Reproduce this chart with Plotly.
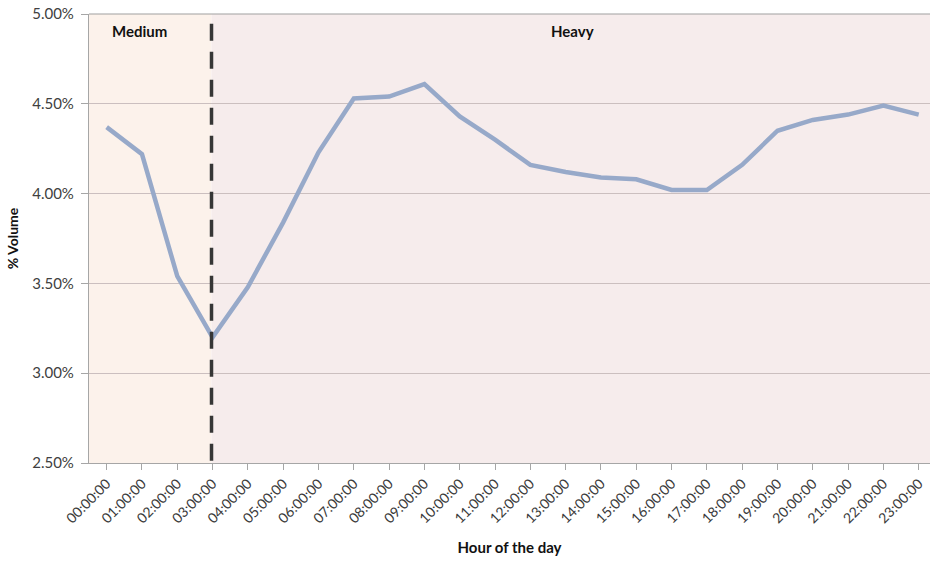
import plotly.graph_objects as go

hours = ["00:00:00", "01:00:00", "02:00:00", "03:00:00", "04:00:00", "05:00:00",
         "06:00:00", "07:00:00", "08:00:00", "09:00:00", "10:00:00", "11:00:00",
         "12:00:00", "13:00:00", "14:00:00", "15:00:00", "16:00:00", "17:00:00",
         "18:00:00", "19:00:00", "20:00:00", "21:00:00", "22:00:00", "23:00:00"]
volume_pct = [4.37, 4.22, 3.54, 3.20, 3.48, 3.84, 4.23, 4.53, 4.54, 4.61, 4.43, 4.30,
              4.16, 4.12, 4.09, 4.08, 4.02, 4.02, 4.16, 4.35, 4.41, 4.44, 4.49, 4.44]
y_ticks = [2.5, 3.0, 3.5, 4.0, 4.5, 5.0]
y_tick_labels = ["2.50%", "3.00%", "3.50%", "4.00%", "4.50%", "5.00%"]
boundary_x = 2.97
zone_labels = ["Medium", "Heavy"]
zone_label_x = [0.94, 13.2]

FONT = "Lato, Carlito, Calibri, Arial, sans-serif"

fig = go.Figure()
fig.add_trace(go.Scatter(
    x=list(range(len(hours))), y=volume_pct, mode="lines",
    line=dict(color="#97A9C9", width=4.5), hoverinfo="y", showlegend=False,
))

# background zones
fig.add_shape(type="rect", xref="x", yref="paper", x0=-0.5, x1=boundary_x, y0=0, y1=1,
              fillcolor="#FCF2EB", line_width=0, layer="below")
fig.add_shape(type="rect", xref="x", yref="paper", x0=boundary_x, x1=30, y0=0, y1=1,
              fillcolor="#F6ECEC", line_width=0, layer="below")
# top border line
fig.add_shape(type="line", xref="paper", yref="paper", x0=0, x1=1, y0=1, y1=1,
              line=dict(color="#A0A0A0", width=1.2))
# dashed boundary
fig.add_shape(type="line", xref="x", yref="paper", x0=boundary_x, x1=boundary_x, y0=0.005, y1=1,
              line=dict(color="#363636", width=3.5, dash="17px,11px"))

for lab, lx in zip(zone_labels, zone_label_x):
    fig.add_annotation(x=lx, xref="x", y=0.962, yref="paper", yanchor="middle",
                       xanchor="center", text="<b>%s</b>" % lab,
                       showarrow=False, font=dict(family=FONT, size=15, color="#111111"))

fig.update_layout(
    width=930, height=561,
    margin=dict(l=89, r=0, t=14, b=98, autoexpand=False),
    paper_bgcolor="white", plot_bgcolor="white",
    font=dict(family=FONT, size=13, color="#404040"),
)
fig.update_xaxes(
    automargin=False,
    range=[-0.5, 23.32],
    tickmode="array", tickvals=list(range(len(hours))), ticktext=hours,
    tickangle=-45, tickson="boundaries",
    ticks="outside", ticklen=6, tickcolor="#A6A6A6",
    showline=True, linecolor="#A6A6A6", linewidth=1.2,
    showgrid=False, zeroline=False,
    tickfont=dict(family=FONT, size=14, color="#3A3A3A"),
    title=dict(text="<b>Hour of the day</b>", font=dict(family=FONT, size=15, color="#111111"),
               standoff=17),
)
fig.update_yaxes(
    automargin=False,
    range=[2.5, 5.0],
    tickmode="array", tickvals=y_ticks, ticktext=y_tick_labels,
    ticks="outside", ticklen=7, tickcolor="#A6A6A6",
    showline=True, linecolor="#A6A6A6", linewidth=1.2,
    showgrid=True, gridcolor="#CBBFBF", gridwidth=1, zeroline=False,
    ticklabelstandoff=4,
    tickfont=dict(family=FONT, size=15, color="#404040"),
    title=dict(text="<b>% Volume</b>", font=dict(family=FONT, size=14, color="#111111"),
               standoff=10),
)

fig.write_html("out.html", config={"displayModeBar": False},
               post_script="document.body.style.margin='0';document.body.style.overflow='hidden';")
